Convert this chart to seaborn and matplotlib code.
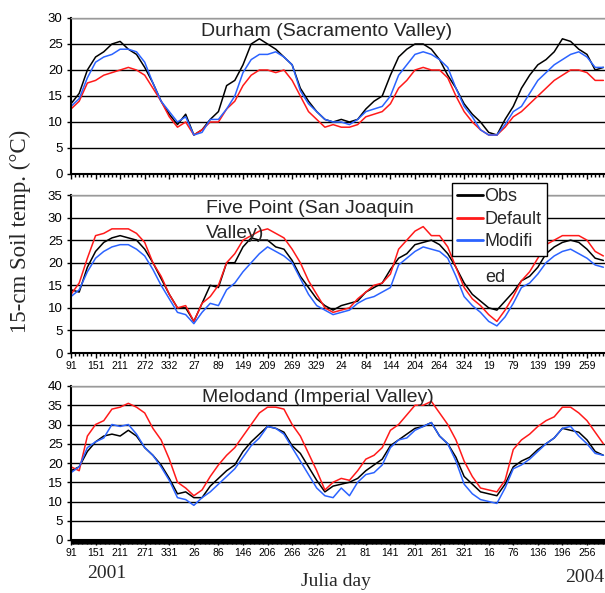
import numpy as np
import pandas as pd
import matplotlib
matplotlib.use("Agg")
import matplotlib.pyplot as plt
import seaborn as sns
from matplotlib.ticker import MultipleLocator

W, H = 605, 593

# days since 2001 Julian day 91, sampled every 20 days
DAY = np.arange(0, 1301, 20)

SERIES = ["Obs", "Default", "Modified"]
COLORS = {"Obs": "#000000", "Default": "#ff1a1a", "Modified": "#2b63ff"}

# ---- Durham (Sacramento Valley)
DUR_OBS = [13.5, 15.5, 20, 22.5, 23.5, 25, 25.5, 24, 23, 20.5,
           17.5, 14, 11.5, 9.5, 11.5, 7.5, 8.5, 10.5, 12, 17,
           18, 21, 25, 26, 25, 24, 22.5, 21, 16.5, 14,
           12, 10.5, 10, 10.5, 10, 10.5, 12.5, 14, 15, 19,
           22.5, 24, 25, 25, 24, 22, 19, 16.5, 13.5, 11.5,
           10, 8, 7.5, 10.5, 13, 16.5, 19, 21, 22, 23.5,
           26, 25.5, 24, 23, 20, 20.5]
DUR_DEF = [12.5, 14, 17.5, 18, 19, 19.5, 20, 20.5, 20, 19,
           16.5, 14, 11, 9, 10, 7.5, 8.5, 10, 10, 12.5,
           14, 17, 19, 20, 20, 19.5, 20, 18, 15, 12,
           10.5, 9, 9.5, 9, 9, 9.5, 11, 11.5, 12, 13.5,
           16.5, 18, 20, 20.5, 20, 20, 18.5, 15, 12, 10,
           8.5, 7.5, 7.5, 9, 11, 12, 13.5, 15, 16.5, 18,
           19, 20, 20, 19.5, 18, 18]
DUR_MOD = [13, 14.5, 18.5, 21.5, 22.5, 23, 24, 24, 23.5, 21.5,
           17.5, 14, 12, 10, 11, 7.5, 8, 10.5, 10.5, 12.5,
           15, 19.5, 22, 23, 23, 23.5, 22.5, 21, 16, 13.5,
           12, 10.5, 10, 10, 9.5, 10.5, 12, 12.5, 13, 15,
           19, 21, 23, 23.5, 23, 22, 20.5, 16.5, 13, 11,
           8.5, 7.5, 7.5, 9.5, 12, 13, 15.5, 18, 19.5, 21,
           22, 23, 23.5, 22.5, 20.5, 20.5]

# ---- Five Point (San Joaquin Valley)
FIV_OBS = [14, 13.5, 19, 22.5, 24.5, 25.5, 26, 25.5, 25, 23,
           20, 16.5, 13, 10, 10, 7, 11, 15, 14.5, 20,
           20, 23.5, 25.5, 25, 25, 23.5, 23, 20.5, 17, 14.5,
           12, 10.5, 9.5, 10.5, 11, 11.5, 13.5, 14.5, 15.5, 18.5,
           21, 22, 24, 24.5, 25, 24, 22, 19, 15.5, 13,
           11.5, 10, 9.5, 11.5, 13.5, 16, 17, 19, 22, 23.5,
           24.5, 25, 24.5, 23, 21, 20.5]
FIV_DEF = [13, 15.5, 21, 26, 26.5, 27.5, 27.5, 27.5, 26.5, 24.5,
           20, 17, 13, 10, 10.5, 7, 11, 12.5, 15, 20,
           22, 25, 26, 27, 27.5, 26.5, 25.5, 23, 20, 16,
           13, 10, 9, 9.5, 10, 12, 13.5, 15, 15.5, 17.5,
           23, 25, 27, 28, 26, 26, 23.5, 19, 14.5, 12,
           10.5, 8.5, 7, 9.5, 12.5, 16, 18, 21, 24, 25,
           26, 26, 26, 25, 22.5, 21.5]
FIV_MOD = [12.5, 14, 18, 21, 22.5, 23.5, 24, 24, 23, 21.5,
           18.5, 15, 12, 9, 8.5, 6.5, 9, 11, 10.5, 14,
           15.5, 18, 20, 22, 23.5, 22.5, 21.5, 20, 16.5, 13,
           10.5, 9.5, 8.5, 9, 9.5, 11, 12, 12.5, 13.5, 14.5,
           19.5, 21, 22.5, 23.5, 23, 22.5, 21, 17, 12.5, 10.5,
           9, 7, 6, 8, 11, 14.5, 15.5, 17.5, 20, 21.5,
           22.5, 23, 22, 21, 19.5, 19]

# ---- Melodand (Imperial Valley)
MEL_OBS = [18, 19, 23, 25.5, 27, 27.5, 27, 28.5, 27, 24,
           22, 19.5, 16, 12, 12.5, 11, 11, 14, 16, 18,
           19.5, 23, 25.5, 27.5, 29.5, 29, 28, 24.5, 22.5, 19,
           15.5, 12.5, 14, 14.5, 15, 16, 18, 19.5, 21, 24.5,
           26, 27.5, 29, 29.5, 30.5, 27, 25, 21.5, 16.5, 14.5,
           12.5, 12, 11.5, 14.5, 19, 20.5, 21.5, 23.5, 25, 26.5,
           29, 28.5, 28, 26, 23, 22]
MEL_DEF = [19, 18, 27, 30, 31, 34, 34.5, 35.5, 34.5, 33,
           29, 26, 21, 15, 13.5, 11.5, 13, 16.5, 19.5, 22,
           24, 27, 30, 33, 34.5, 34.5, 34, 30, 27, 22.5,
           18, 13, 15, 16, 15.5, 18, 21, 22, 24, 28.5,
           30, 32.5, 35, 35, 36, 33, 30, 26, 20.5, 16.5,
           13.5, 13, 12.5, 15.5, 23.5, 26, 27.5, 29.5, 31, 32,
           34.5, 34.5, 33, 31, 28, 25]
MEL_MOD = [17.5, 19, 24, 25.5, 26.5, 30, 29.5, 30, 27.5, 24,
           22, 19, 15.5, 11, 10.5, 9, 11, 12.5, 14.5, 16.5,
           18.5, 21.5, 24.5, 26.5, 29.5, 29, 27.5, 24, 20.5, 17,
           13.5, 11.5, 11, 13.5, 11.5, 15, 17, 17.5, 19.5, 24,
           26, 26.5, 28.5, 29.5, 30.5, 27, 25, 20.5, 14.5, 12,
           10.5, 10, 9.5, 13.5, 18.5, 19.5, 21, 23, 25, 26.5,
           29, 29.5, 27, 25, 22.5, 22]

TICK_POS = np.arange(0, 1261, 60)
FIV_LABELS = ["91", "151", "211", "272", "332", "27", "89", "149", "209", "269", "329",
              "24", "84", "144", "204", "264", "324", "19", "79", "139", "199", "259"]
MEL_LABELS = ["91", "151", "211", "271", "331", "26", "86", "146", "206", "266", "326",
              "21", "81", "141", "201", "261", "321", "16", "76", "136", "196", "256"]

sns.set_style("ticks")
plt.rcParams["font.family"] = ["Liberation Sans", "DejaVu Sans"]

fig = plt.figure(figsize=(W / 100, H / 100), dpi=100)


def rect(top, bottom, left=71):
    return [left / W, 1 - bottom / H, 1 - left / W, (bottom - top) / H]


def fx(x):
    return x / W


def fy(y):
    return 1 - y / H


panels = [
    (rect(18, 174), 30, (DUR_OBS, DUR_DEF, DUR_MOD), None, 10),
    (rect(195, 353), 35, (FIV_OBS, FIV_DEF, FIV_MOD), FIV_LABELS, 10),
    (rect(386, 540), 40, (MEL_OBS, MEL_DEF, MEL_MOD), MEL_LABELS, 2),
]

axes = []
for r, ymax, vals, labels, minor in panels:
    ax = fig.add_axes(r)
    df = pd.DataFrame({
        "day": np.concatenate([DAY] * 3),
        "temp": np.concatenate([np.asarray(v, float) for v in vals]),
        "series": np.repeat(SERIES, len(DAY)),
    })
    sns.lineplot(data=df, x="day", y="temp", hue="series", hue_order=SERIES,
                 palette=COLORS, estimator=None, linewidth=1.1, legend=False, ax=ax)
    ax.set_xlim(0, 1304)
    ax.set_ylim(0, ymax)
    ax.set_yticks(np.arange(0, ymax + 1, 5))
    ax.set_xticks(TICK_POS)
    if labels is None:
        ax.set_xticklabels([])
    else:
        ax.set_xticklabels(labels, fontsize=7.5)
    ax.xaxis.set_minor_locator(MultipleLocator(minor))
    ax.set_xlabel("")
    ax.set_ylabel("")
    ax.yaxis.grid(True, color="black", linewidth=1.0)
    ax.xaxis.grid(False)
    ax.set_axisbelow(True)
    ax.tick_params(axis="y", labelsize=9.5, length=3, width=1, pad=3, colors="black")
    ax.tick_params(axis="x", which="major", length=3.5, width=1, pad=2.5, colors="black")
    ax.tick_params(axis="x", which="minor", length=2.5 if minor > 2 else 3, width=1, colors="black")
    for s in ("left", "bottom"):
        ax.spines[s].set_color("black")
        ax.spines[s].set_linewidth(1.5)
    ax.spines["right"].set_visible(False)
    ax.spines["top"].set_color("#9a9a9a")
    ax.spines["top"].set_linewidth(1.0)
    axes.append(ax)

# panel titles
fig.text(fx(327), fy(32), "Durham (Sacramento Valley)", fontsize=14, ha="center", va="center")
fig.text(fx(206), fy(208), "Five Point (San Joaquin", fontsize=14, ha="left", va="center")
fig.text(fx(206), fy(234), "Valley)", fontsize=14, ha="left", va="center")
fig.text(fx(318), fy(398), "Melodand (Imperial Valley)", fontsize=14, ha="center", va="center")

# legend
handles = axes[1].get_lines()[:3]
leg = fig.legend(handles, ["Obs", "Default", "Modifi"], loc="upper left",
                 bbox_to_anchor=(fx(452), fy(183)), bbox_transform=fig.transFigure,
                 frameon=True, fancybox=False, edgecolor="black", framealpha=1,
                 fontsize=13, handlelength=1.4, handletextpad=0.1,
                 labelspacing=0.3, borderpad=0.3, borderaxespad=0)
leg.get_frame().set_linewidth(1.0)
for ln in leg.get_lines():
    ln.set_linewidth(2.0)
fig.text(fx(485), fy(277), "ed", fontsize=13, ha="left", va="center")

# serif labels
serif = ["Liberation Serif", "DejaVu Serif"]
fig.text(fx(20), fy(231), "15-cm Soil temp. (\u00b0C)", fontsize=16.5, family=serif,
         rotation=90, ha="center", va="center")
fig.text(fx(107), fy(574), "2001", fontsize=14, family=serif, ha="center", va="center")
fig.text(fx(336), fy(582), "Julia day", fontsize=14, family=serif, ha="center", va="center")
fig.text(fx(565), fy(578), "2004", fontsize=14, family=serif, ha="left", va="center")

fig.savefig("out.png", dpi=100)
